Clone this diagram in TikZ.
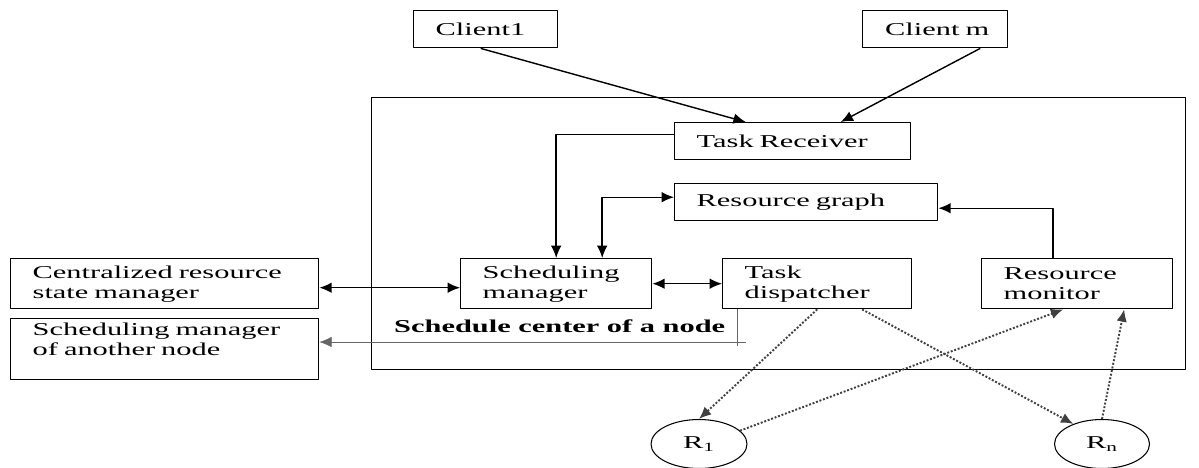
\documentclass[tikz,border=0pt]{standalone}
\usepackage{fontspec}
\setmainfont{Liberation Serif}[FakeStretch=1.68]
\usetikzlibrary{arrows.meta,calc,shapes.geometric}
\begin{document}
\begin{tikzpicture}[x=0.02cm, y=-0.02cm, font=\fontsize{10.3}{11.4}\selectfont, line join=round, >={Latex[length=7pt,width=6pt]},
	blk/.style={draw, line width=0.8pt, anchor=north west, align=left, inner xsep=0.44cm, inner ysep=0pt},
	tainguyen/.style={draw, ellipse, inner sep=0pt, line width=0.6pt},
	lien/.style={line width=0.8pt},
	cham/.style={densely dotted, line width=1.1pt, black!75},
	manh/.style={line width=0.4pt, black!60}]
	\useasboundingbox (0,0) rectangle (1199,467);
	\clip (0,0) rectangle (1199,467);
	% khung trung tam
	\node[draw, anchor=north west, minimum width=16.28cm, minimum height=5.44cm, line width=0.6pt] (khung) at (371,97) {};
	\node[anchor=west, font=\fontsize{10.3}{11.4}\selectfont\bfseries] (nhan) at (388,326) {Schedule center of a node};
	% cac khoi
	\node[blk, minimum width=2.88cm, minimum height=0.74cm, text width=2cm] (cl1) at (413,10) {Client1};
	\node[blk, minimum width=2.9cm, minimum height=0.74cm, text width=2.2cm, inner xsep=0.35cm] (clm) at (862,10) {\hspace*{0.1cm}Client m};
	\node[blk, minimum width=4.72cm, minimum height=0.74cm, text width=3.84cm] (recv) at (674,122) {Task Receiver};
	\node[blk, minimum width=5.26cm, minimum height=0.74cm, text width=4.38cm] (graph) at (674,183) {Resource graph};
	\node[blk, minimum width=3.82cm, minimum height=1cm, text width=2.94cm] (sched) at (460,258) {Scheduling\\manager};
	\node[blk, minimum width=3.78cm, minimum height=1cm, text width=2.9cm] (disp) at (722,258) {Task\\dispatcher};
	\node[blk, minimum width=3.82cm, minimum height=1cm, text width=2.94cm] (mon) at (981,258) {Resource\\monitor};
	\node[blk, minimum width=6.16cm, minimum height=1cm, text width=5.28cm] (crsm) at (10,258) {Centralized resource\\state manager};
	\node[blk, minimum width=6.16cm, minimum height=1.22cm, text width=5.28cm] (other) at (10,318) {Scheduling manager\\of another node\\\mbox{}};
	% tai nguyen
	\node[tainguyen, minimum width=1.92cm, minimum height=0.98cm] (r1) at (699,444) {R\textsubscript{1}};
	\node[tainguyen, minimum width=1.9cm, minimum height=0.98cm] (rn) at (1102,444) {R\textsubscript{n}};
	% cac mui ten
	\draw[lien,->] ($(cl1.south)+(-5,0)$) -- ($(recv.north)+(-47,0)$);
	\draw[lien,->] ($(clm.south)+(45,0)$) -- ($(recv.north)+(48,0)$);
	\draw[lien,->] ($(recv.west)+(0,-7)$) -| (sched.north);
	\draw[lien,<->] ($(graph.west)+(0,-5)$) -| ($(sched.north)+(46,0)$);
	\draw[lien,->] ($(mon.north)+(-24,0)$) |- ($(graph.east)+(0,6)$);
	\draw[lien,<->] ($(crsm.east)+(0,4)$) -- ($(sched.west)+(0,4)$);
	\draw[lien,<->] (sched.east) -- (disp.west);
	\coordinate (re) at (746,342);
	\draw[manh] ($(disp.south west)+(15,0)$) -- ++(0,37);
	\draw[manh,->] (re) -- (re -| other.east);
	\draw[cham,->] (disp.south) -- (r1.north);
	\draw[cham,->] ($(disp.south)+(45,0)$) -- (rn.145);
	\draw[cham,->] (r1.18) -- ($(mon.south)+(-14,0)$);
	\draw[cham,->] (rn.north) -- ($(mon.south)+(47,0)$);
\end{tikzpicture}
\end{document}
